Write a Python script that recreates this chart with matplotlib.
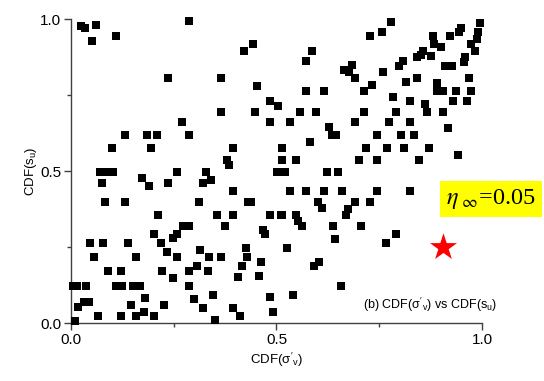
import matplotlib.pyplot as plt
import numpy as np

plt.rcParams['font.family'] = ['Liberation Sans', 'DejaVu Sans']
plt.rcParams['mathtext.fontset'] = 'custom'
plt.rcParams['mathtext.rm'] = 'Liberation Sans'
plt.rcParams['mathtext.it'] = 'Liberation Sans'

# CDF(sigma'_v) vs CDF(s_u) pairs
cdf_sigma = [
    0.024, 0.034, 0.061, 0.109, 0.052, 0.288, 0.444, 0.421,
    0.237, 0.365, 0.453, 0.483, 0.504, 0.365, 0.448, 0.483, 0.271,
    0.132, 0.185, 0.210, 0.288, 0.099, 0.195, 0.395, 0.379, 0.384,
    0.727, 0.587, 0.573, 0.683, 0.665, 0.676, 0.692, 0.733,
    0.573, 0.616, 0.714, 0.558, 0.595, 0.714, 0.534, 0.692, 0.628,
    0.634, 0.646, 0.582, 0.744, 0.514, 0.719, 0.514, 0.548, 0.701, 0.744,
    0.779, 0.995, 0.950, 0.944, 0.756, 0.991, 0.882, 0.922, 0.987, 0.974,
    0.884, 0.900, 0.982, 0.857, 0.852, 0.875, 0.842, 0.958, 0.807, 0.957,
    0.798, 0.911, 0.927, 0.758, 0.842, 0.816, 0.968, 0.891, 0.891, 0.906,
    0.936, 0.974, 0.784, 0.826, 0.930, 0.964, 0.862, 0.791, 0.867, 0.906,
    0.774, 0.826, 0.917, 0.803, 0.834, 0.770, 0.811, 0.872, 0.941, 0.847,
    0.071, 0.089, 0.103, 0.075, 0.172, 0.191, 0.235, 0.083, 0.132, 0.211,
    0.202, 0.047, 0.079, 0.139, 0.218, 0.233, 0.057, 0.158, 0.091, 0.122,
    0.222, 0.006, 0.015, 0.037, 0.110, 0.123, 0.150, 0.167, 0.018, 0.032,
    0.044, 0.181, 0.145, 0.227, 0.177, 0.066, 0.122, 0.158, 0.202, 0.010,
    0.259, 0.328, 0.322, 0.341, 0.395, 0.311, 0.431, 0.438, 0.356, 0.395,
    0.483, 0.512, 0.375, 0.272, 0.287, 0.259, 0.247, 0.466, 0.472, 0.315,
    0.425, 0.259, 0.337, 0.365, 0.429, 0.462, 0.306, 0.287, 0.333, 0.416,
    0.407, 0.457, 0.247, 0.287, 0.346, 0.300, 0.483, 0.322, 0.395, 0.411,
    0.351, 0.492,
    0.502, 0.520, 0.624, 0.650, 0.534, 0.573, 0.616, 0.660, 0.744, 0.826,
    0.600, 0.610, 0.692, 0.727, 0.675, 0.668, 0.514, 0.547, 0.553, 0.563,
    0.637, 0.706, 0.642, 0.526, 0.604, 0.592, 0.656, 0.541, 0.791, 0.766,
]
cdf_su = [
    0.978, 0.971, 0.982, 0.944, 0.928, 0.992, 0.918, 0.896,
    0.807, 0.807, 0.779, 0.731, 0.714, 0.694, 0.694, 0.661, 0.661,
    0.617, 0.617, 0.617, 0.617, 0.575, 0.575, 0.575, 0.537, 0.520,
    0.943, 0.896, 0.863, 0.848, 0.834, 0.826, 0.807, 0.784,
    0.762, 0.762, 0.762, 0.694, 0.694, 0.694, 0.661, 0.661, 0.646,
    0.617, 0.617, 0.594, 0.617, 0.575, 0.575, 0.536, 0.536, 0.536, 0.536,
    0.990, 0.986, 0.972, 0.958, 0.958, 0.958, 0.943, 0.943, 0.933, 0.918,
    0.918, 0.908, 0.896, 0.896, 0.883, 0.880, 0.874, 0.874, 0.863, 0.860,
    0.846, 0.846, 0.846, 0.826, 0.807, 0.794, 0.807, 0.789, 0.762, 0.762,
    0.762, 0.762, 0.742, 0.731, 0.731, 0.731, 0.719, 0.694, 0.694, 0.694,
    0.661, 0.661, 0.641, 0.617, 0.617, 0.576, 0.576, 0.576, 0.553, 0.537,
    0.498, 0.498, 0.498, 0.460, 0.476, 0.452, 0.460, 0.398, 0.398, 0.354,
    0.293, 0.263, 0.263, 0.263, 0.263, 0.235, 0.217, 0.217, 0.170, 0.170,
    0.170, 0.122, 0.122, 0.122, 0.122, 0.122, 0.122, 0.122, 0.052, 0.071,
    0.071, 0.081, 0.061, 0.061, 0.038, 0.023, 0.023, 0.023, 0.023, 0.006,
    0.498, 0.498, 0.462, 0.470, 0.433, 0.398, 0.398, 0.398, 0.355, 0.355,
    0.355, 0.354, 0.319, 0.319, 0.319, 0.293, 0.280, 0.305, 0.293, 0.239,
    0.246, 0.218, 0.218, 0.218, 0.218, 0.200, 0.188, 0.170, 0.170, 0.188,
    0.151, 0.156, 0.147, 0.121, 0.093, 0.080, 0.087, 0.051, 0.051, 0.022,
    0.009, 0.038,
    0.498, 0.498, 0.498, 0.498, 0.433, 0.433, 0.433, 0.433, 0.433, 0.433,
    0.398, 0.378, 0.398, 0.398, 0.374, 0.354, 0.354, 0.354, 0.336, 0.320,
    0.320, 0.320, 0.275, 0.246, 0.201, 0.189, 0.121, 0.094, 0.293, 0.262,
]

# the red star
star_x = [0.904]
star_y = [0.249]

fig = plt.figure(figsize=(5.44, 3.81), dpi=100)
ax = fig.add_axes([0.1305, 0.152, 0.7555, 0.798])

ax.scatter(cdf_sigma, cdf_su, marker='s', s=36, color='black', linewidths=0, clip_on=False, zorder=3)
ax.scatter(star_x, star_y, marker='*', s=420, color='#ff0000', linewidths=0, clip_on=False, zorder=3)

ax.set_xlim(0, 1)
ax.set_ylim(0, 1)

ax.spines['right'].set_color('none')
ax.spines['top'].set_color('none')
for s in ['left', 'bottom']:
    ax.spines[s].set_color('#404040')
    ax.spines[s].set_linewidth(1.0)

ax.set_xticks([0, 0.5, 1.0])
ax.set_yticks([0, 0.5, 1.0])
ax.set_xticks([0.25, 0.75], minor=True)
ax.set_yticks([0.25, 0.75], minor=True)
ax.set_xticklabels(['0.0', '0.5', '1.0'])
ax.set_yticklabels(['0.0', '0.5', '1.0'])
ax.tick_params(which='major', direction='out', length=5, width=1, color='#404040', labelsize=11, pad=2)
ax.tick_params(which='minor', direction='out', length=3, width=1, color='#404040')

ax.set_xlabel(r"CDF($\sigma'_v$)", fontsize=9.5, labelpad=3)
ax.set_ylabel(r"CDF($s_u$)", fontsize=9.5, labelpad=1)

ax.text(1.036, 0.059, r"(b) CDF($\sigma'_v$) vs CDF($s_u$)", transform=ax.transAxes,
        ha='right', va='center', fontsize=9)

ax.text(0.913, 0.408, r'$\eta_{\ \infty}$=0.05', transform=ax.transAxes,
        ha='left', va='center', fontsize=17.5, family='Liberation Serif', math_fontfamily='stix',
        bbox=dict(boxstyle='square,pad=0.25', facecolor='#ffff00', edgecolor='none'),
        clip_on=False)

plt.savefig('out.png', dpi=100)
